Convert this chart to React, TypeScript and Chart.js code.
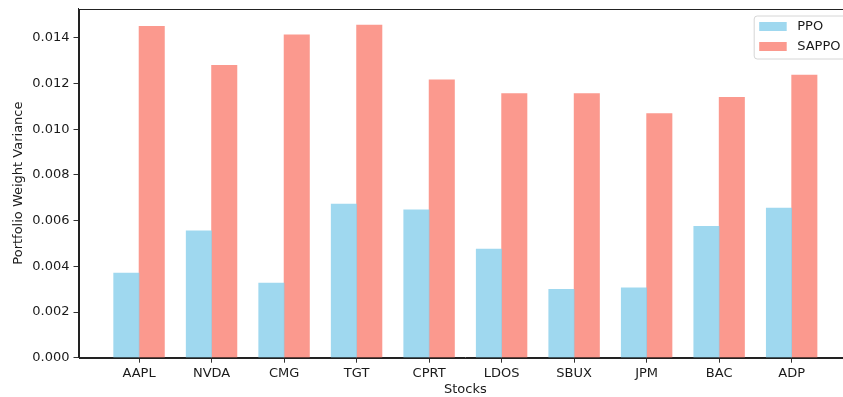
import React, { useEffect, useRef } from "react";
import { Chart, registerables } from "chart.js";

Chart.register(...registerables);

const categories = ["AAPL", "NVDA", "CMG", "TGT", "CPRT", "LDOS", "SBUX", "JPM", "BAC", "ADP"];
const ppoValues = [0.0037, 0.00555, 0.00327, 0.00673, 0.00647, 0.00476, 0.00299, 0.00306, 0.00575, 0.00655];
const sappoValues = [0.01451, 0.0128, 0.01413, 0.01456, 0.01216, 0.01156, 0.01156, 0.01069, 0.0114, 0.01237];
const yTickValues = [0, 0.002, 0.004, 0.006, 0.008, 0.01, 0.012, 0.014];
const seriesLabels = ["PPO", "SAPPO"];

const BAR_W = 0.35;
const FONT = "'DejaVu Sans', sans-serif";
const FS = 13;
const TEXT = "#1a1a1a";

export default function App() {
  const ref = useRef<HTMLCanvasElement | null>(null);

  useEffect(() => {
    const canvas = ref.current;
    if (!canvas) return;
    const colors = ["rgba(135,206,235,0.8)", "rgba(250,128,114,0.8)"];
    const n = categories.length;
    const lo = -BAR_W, hi = n - 1 + BAR_W;
    const margin = (hi - lo) * 0.05;
    const yMax = Math.max(...sappoValues, ...ppoValues) * 1.05;

    const framePlugin = {
      id: "frame",
      afterDraw(chart: any) {
        const { ctx, chartArea } = chart;
        const { left, top, right, bottom } = chartArea;
        ctx.save();
        ctx.strokeStyle = "#222";
        ctx.lineWidth = 1;
        ctx.strokeRect(Math.round(left) + 0.5, Math.round(top) + 0.5, Math.round(right) - Math.round(left), Math.round(bottom) - Math.round(top));
        // legend
        const bx = right - 98, by = top + 7.5, bw = 93, bh = 43;
        ctx.beginPath();
        const r = 3;
        ctx.moveTo(bx + r, by);
        ctx.lineTo(bx + bw - r, by);
        ctx.quadraticCurveTo(bx + bw, by, bx + bw, by + r);
        ctx.lineTo(bx + bw, by + bh - r);
        ctx.quadraticCurveTo(bx + bw, by + bh, bx + bw - r, by + bh);
        ctx.lineTo(bx + r, by + bh);
        ctx.quadraticCurveTo(bx, by + bh, bx, by + bh - r);
        ctx.lineTo(bx, by + r);
        ctx.quadraticCurveTo(bx, by, bx + r, by);
        ctx.closePath();
        ctx.fillStyle = "rgba(255,255,255,0.8)";
        ctx.fill();
        ctx.strokeStyle = "#d6d6d6";
        ctx.lineWidth = 1;
        ctx.stroke();
        ctx.font = `${FS}px ${FONT}`;
        ctx.textBaseline = "middle";
        ctx.textAlign = "left";
        seriesLabels.forEach((lab, i) => {
          const cy = by + 10.5 + i * 20;
          ctx.fillStyle = colors[i];
          ctx.fillRect(bx + 5, cy - 4.5, 27.5, 9);
          ctx.fillStyle = TEXT;
          ctx.fillText(lab, bx + 43, cy + 0.5);
        });
        ctx.restore();
      },
    };

    const chart = new Chart(canvas, {
      type: "bar",
      data: {
        datasets: [
          {
            label: seriesLabels[0],
            data: ppoValues.map((v, i) => ({ x: i - BAR_W / 2, y: v })),
            backgroundColor: colors[0],
            grouped: false,
            barPercentage: 1,
            categoryPercentage: 1,
            borderWidth: 0,
          } as any,
          {
            label: seriesLabels[1],
            data: sappoValues.map((v, i) => ({ x: i + BAR_W / 2, y: v })),
            backgroundColor: colors[1],
            grouped: false,
            barPercentage: 1,
            categoryPercentage: 1,
            borderWidth: 0,
          } as any,
        ],
      },
      options: {
        responsive: false,
        animation: false,
        devicePixelRatio: 1,
        layout: { padding: { top: 8.5, right: 17.8, left: 0, bottom: 0 } },
        plugins: { legend: { display: false }, tooltip: { enabled: false } },
        scales: {
          x: {
            type: "linear",
            offset: false,
            min: lo - margin,
            max: hi + margin,
            afterBuildTicks: (s: any) => {
              s.ticks = categories.map((_, i) => ({ value: i }));
            },
            afterFit: (s: any) => {
              s.height = 39.3;
              s.paddingLeft = 0;
              s.paddingRight = 0;
            },
            ticks: {
              autoSkip: false,
              maxRotation: 0,
              padding: 3,
              color: TEXT,
              font: { family: FONT, size: FS },
              callback: (v: any) => categories[Math.round(Number(v))] ?? "",
            },
            grid: { display: true, offset: false, drawOnChartArea: false, tickLength: 5, tickColor: "#333", lineWidth: 1 },
            border: { display: true, color: "#222", width: 1 },
            title: {
              display: true,
              text: "Stocks",
              color: TEXT,
              font: { family: FONT, size: FS },
              padding: { top: 0, bottom: 0 },
            },
          } as any,
          y: {
            type: "linear",
            min: 0,
            max: yMax,
            afterBuildTicks: (s: any) => {
              s.ticks = yTickValues.map((v) => ({ value: v }));
            },
            afterFit: (s: any) => {
              s.width = 78.5;
              s.paddingTop = 0;
              s.paddingBottom = 0;
            },
            ticks: {
              padding: 4,
              color: TEXT,
              font: { family: FONT, size: FS },
              callback: (v: any) => Number(v).toFixed(3),
            },
            grid: { display: true, drawOnChartArea: false, tickLength: 5, tickColor: "#333", lineWidth: 1 },
            border: { display: true, color: "#222", width: 1 },
            title: {
              display: true,
              text: "Portfolio Weight Variance",
              color: TEXT,
              font: { family: FONT, size: FS },
              padding: { top: 10.7, bottom: 0 },
            },
          } as any,
        },
      },
      plugins: [framePlugin],
    });
    return () => chart.destroy();
  }, []);

  return (
    <div style={{ position: "fixed", left: 0, top: 0, width: 843, height: 397, overflow: "hidden", background: "#fff" }}>
      <canvas ref={ref} width={870} height={397} style={{ width: 870, height: 397, display: "block" }} />
    </div>
  );
}
